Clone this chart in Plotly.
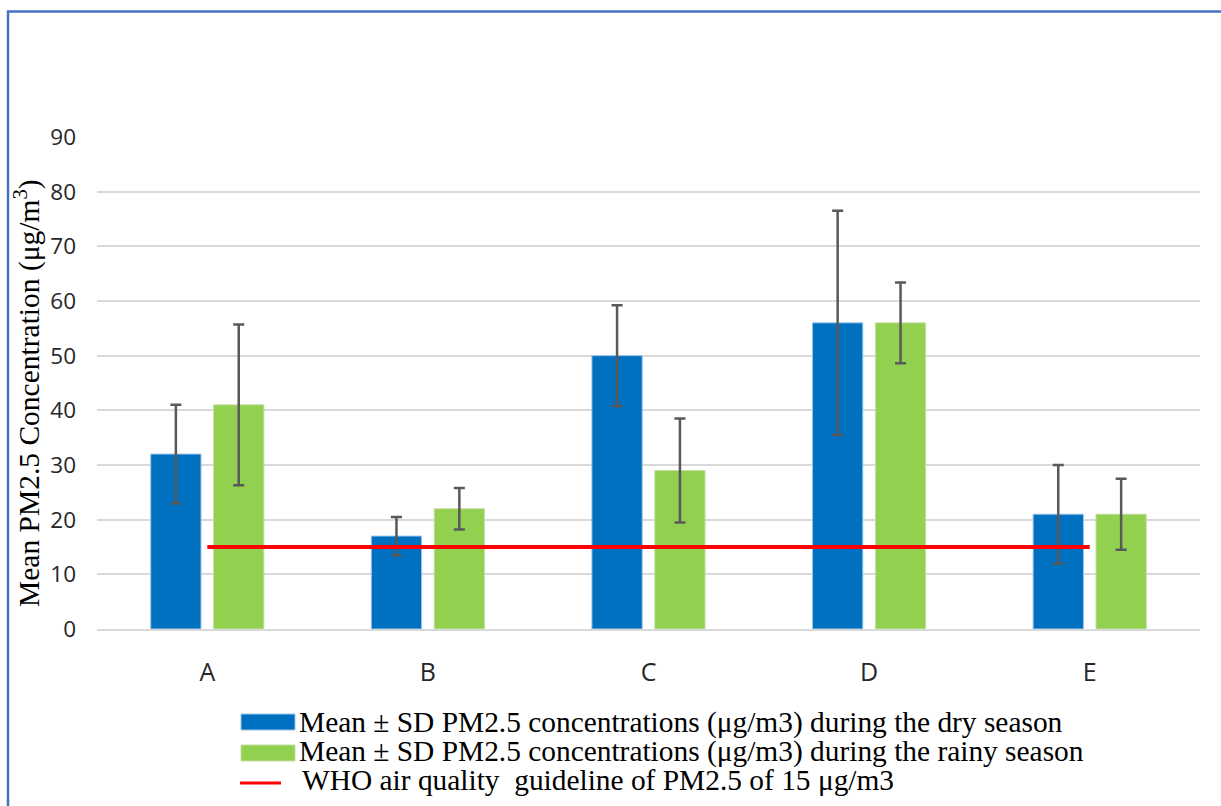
import plotly.graph_objects as go

# Sites and seasonal PM2.5 statistics (µg/m3)
sites = ["A", "B", "C", "D", "E"]
dry_mean = [32, 17, 50, 56, 21]
dry_sd = [9, 3.5, 9.2, 20.5, 9]
rainy_mean = [41, 22, 29, 56, 21]
rainy_sd = [14.7, 3.8, 9.5, 7.4, 6.5]
who_guideline = 15
y_ticks = [0, 10, 20, 30, 40, 50, 60, 70, 80, 90]

dry_name = "Mean ± SD PM2.5 concentrations (μg/m3) during the dry season"
rainy_name = "Mean ± SD PM2.5 concentrations (μg/m3) during the rainy season"
who_name = "WHO air quality  guideline of PM2.5 of 15 μg/m3"

BLUE = "#0070C0"
GREEN = "#92D050"
RED = "#FF0000"
ERR = "#595959"
GRID = "#D9D9D9"
FRAME = "#4472C4"

W, H = 1221, 806
ML, MR, MT, MB = 97, 21, 137, 177
PW, PH = W - ML - MR, H - MT - MB


def px(x):
    return (x - ML) / PW


def py(y):
    return (H - MB - y) / PH


err_style = dict(type="data", thickness=2.5, width=5.5, color=ERR)

fig = go.Figure()
fig.add_trace(go.Bar(
    x=sites, y=dry_mean, name=dry_name,
    marker=dict(color=BLUE, line=dict(color="#9DC3E6", width=1)),
    error_y=dict(array=dry_sd, **err_style),
))
fig.add_trace(go.Bar(
    x=sites, y=rainy_mean, name=rainy_name,
    marker=dict(color=GREEN, line=dict(color="#C5E0A5", width=1)),
    error_y=dict(array=rainy_sd, **err_style),
))
fig.add_trace(go.Scatter(
    x=sites, y=[who_guideline] * len(sites), name=who_name,
    mode="lines", line=dict(color=RED, width=4),
))

serif = "Liberation Serif, Times New Roman, serif"
sans = "Open Sans, sans-serif"

# Legend drawn beneath the plot: swatches plus labels
shapes = [
    dict(type="rect", xref="paper", yref="paper",
         x0=px(241), x1=px(295), y0=py(730), y1=py(714),
         fillcolor=BLUE, line=dict(color="#9DC3E6", width=1)),
    dict(type="rect", xref="paper", yref="paper",
         x0=px(241), x1=px(295), y0=py(761), y1=py(745),
         fillcolor=GREEN, line=dict(color="#C5E0A5", width=1)),
    dict(type="line", xref="paper", yref="paper",
         x0=px(240), x1=px(281), y0=py(783), y1=py(783),
         line=dict(color=RED, width=3)),
    # outer frame (left and top edges)
    dict(type="line", xref="paper", yref="paper",
         x0=px(8), x1=px(8), y0=py(11), y1=py(H + 5),
         line=dict(color=FRAME, width=2.5)),
    dict(type="line", xref="paper", yref="paper",
         x0=px(7), x1=px(W + 5), y0=py(11.5), y1=py(11.5),
         line=dict(color=FRAME, width=2.5)),
]

annotations = [
    dict(text=dry_name, xref="paper", yref="paper", x=px(297), y=py(722),
         xanchor="left", yanchor="middle", showarrow=False,
         font=dict(family=serif, size=29.4, color="#000000")),
    dict(text=rainy_name, xref="paper", yref="paper", x=px(297), y=py(751),
         xanchor="left", yanchor="middle", showarrow=False,
         font=dict(family=serif, size=29.4, color="#000000")),
    dict(text=who_name, xref="paper", yref="paper", x=px(300), y=py(780),
         xanchor="left", yanchor="middle", showarrow=False,
         font=dict(family=serif, size=29.4, color="#000000")),
    dict(text="Mean PM2.5 Concentration (μg/m<sup>3</sup>)", xref="paper", yref="paper",
         x=px(27), y=py(393), xanchor="center", yanchor="middle", textangle=-90,
         showarrow=False, font=dict(family=serif, size=29.5, color="#000000")),
]

fig.update_layout(
    width=W, height=H,
    margin=dict(l=ML, r=MR, t=MT, b=MB, pad=0),
    paper_bgcolor="white", plot_bgcolor="white",
    barmode="group", bargap=0.43, bargroupgap=0.2,
    showlegend=False,
    shapes=shapes, annotations=annotations,
)
fig.update_xaxes(
    type="category", showgrid=False, showline=True, linecolor=GRID, linewidth=2,
    ticks="", ticklabelstandoff=20,
    tickfont=dict(family=sans, size=25, color="#262626"),
)
fig.update_yaxes(
    range=[0, 90], tickvals=y_ticks, showgrid=True, gridcolor=GRID, gridwidth=2,
    zeroline=False, showline=False, ticks="", ticklabelstandoff=20,
    tickfont=dict(family=sans, size=22.5, color="#262626"),
)

fig.write_html("out.html")
